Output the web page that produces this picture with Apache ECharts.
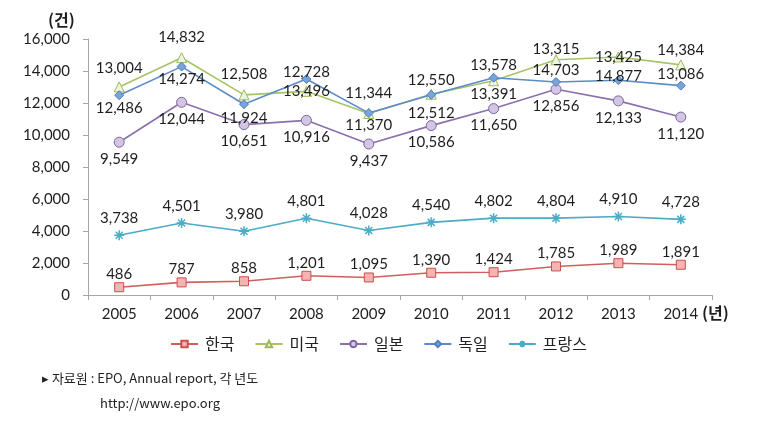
<!DOCTYPE html>
<html>
<head>
<meta charset="utf-8">
<script src="https://cdn.jsdelivr.net/npm/echarts@6/dist/echarts.min.js"></script>
<style>
html,body{margin:0;padding:0;background:#fff;}
#chart{width:757px;height:427px;}
</style>
</head>
<body>
<div id="chart"></div>
<script>
const years = ['2005','2006','2007','2008','2009','2010','2011','2012','2013','2014'];
const korea   = [486, 787, 858, 1201, 1095, 1390, 1424, 1785, 1989, 1891];
const usa     = [13004, 14832, 12508, 12728, 11344, 12550, 13391, 14703, 14877, 14384];
const japan   = [9549, 12044, 10651, 10916, 9437, 10586, 11650, 12856, 12133, 11120];
const germany = [12486, 14274, 11924, 13496, 11370, 12512, 13578, 13315, 13425, 13086];
const france  = [3738, 4501, 3980, 4801, 4028, 4540, 4802, 4804, 4910, 4728];
const yTicks = { min: 0, max: 16000, interval: 2000 };

// label vertical offsets (style only)
const usLabelDy = [-19, -21, -21, -19, -20, -14, 13, 10, 19, -15];
const deLabelDy = [13, 13, 14, 12, 12, 18, -13, -33, -23, -11];

const fmt = v => String(v).replace(/\B(?=(\d{3})+(?!\d))/g, ',');
const labelFont = 'Lato, "Open Sans", sans-serif';
const baseLabel = (dy) => ({
  show: true, position: 'inside', offset: [0, dy],
  fontFamily: labelFont, fontSize: 15, color: '#1e1e1e',
  formatter: p => fmt(p.value)
});
const withDy = (vals, dys) => vals.map((v, i) => ({ value: v, label: { offset: [0, dys[i]] } }));

const chart = echarts.init(document.getElementById('chart'));
chart.setOption({
  animation: false,
  backgroundColor: '#fff',
  grid: { left: 88, right: 45, top: 39, bottom: 132 },
  xAxis: {
    type: 'category', data: years, boundaryGap: true,
    axisLine: { lineStyle: { color: '#a6a6a6', width: 1 } },
    axisTick: { show: true, length: 5, lineStyle: { color: '#a6a6a6' } },
    axisLabel: { fontFamily: labelFont, fontSize: 15, color: '#1e1e1e', margin: 12 }
  },
  yAxis: {
    type: 'value', min: yTicks.min, max: yTicks.max, interval: yTicks.interval,
    axisLine: { show: true, lineStyle: { color: '#a6a6a6', width: 1 } },
    axisTick: { show: true, length: 5, lineStyle: { color: '#a6a6a6' } },
    splitLine: { show: false },
    axisLabel: { fontFamily: labelFont, fontSize: 15, color: '#1e1e1e', margin: 18, formatter: v => fmt(v) }
  },
  legend: {
    bottom: 70, left: 'center', itemGap: 20, itemWidth: 27, itemHeight: 8,
    textStyle: { fontFamily: '"Noto Sans CJK KR", sans-serif', fontSize: 16, color: '#222', padding: [0, 0, 0, 2] },
    data: ['한국', '미국', '일본', '독일', '프랑스']
  },
  series: [
    {
      name: '한국', type: 'line', data: korea,
      symbol: 'rect', symbolSize: 9,
      lineStyle: { color: '#cf5f5d', width: 1.6 },
      itemStyle: { color: '#f3b5b3', borderColor: '#c9504d', borderWidth: 1 },
      label: baseLabel(-13)
    },
    {
      name: '미국', type: 'line', data: withDy(usa, usLabelDy),
      symbol: 'triangle', symbolSize: 10,
      lineStyle: { color: '#a6c466', width: 1.6 },
      itemStyle: { color: '#eef4df', borderColor: '#9bbb59', borderWidth: 1 },
      label: baseLabel(-19)
    },
    {
      name: '일본', type: 'line', data: japan,
      symbol: 'circle', symbolSize: 10,
      lineStyle: { color: '#8a70ad', width: 1.6 },
      itemStyle: { color: '#d3c6e3', borderColor: '#8064a2', borderWidth: 1 },
      label: baseLabel(17)
    },
    {
      name: '독일', type: 'line', data: withDy(germany, deLabelDy),
      symbol: 'diamond', symbolSize: 9,
      lineStyle: { color: '#5b8bc8', width: 1.6 },
      itemStyle: { color: '#7aa3d8', borderColor: '#4f81bd', borderWidth: 1 },
      label: baseLabel(13)
    },
    {
      name: '프랑스', type: 'line', data: france,
      symbol: 'path://M0,5L10,5M5,0L5,10M1.5,1.5L8.5,8.5M8.5,1.5L1.5,8.5', symbolSize: 10,
      lineStyle: { color: '#4bacc6', width: 1.6 },
      itemStyle: { color: 'rgba(0,0,0,0)', borderColor: '#4bacc6', borderWidth: 1.5 },
      label: baseLabel(-17)
    }
  ],
  graphic: [
    { type: 'text', left: 48, top: 12, style: { text: '(건)', font: 'bold 16px "Noto Sans CJK KR", sans-serif', fill: '#1e1e1e' } },
    { type: 'text', left: 702, top: 305, style: { text: '(년)', font: 'bold 16px "Noto Sans CJK KR", sans-serif', fill: '#1e1e1e' } },
    { type: 'text', left: 42, top: 372, style: { text: '▸ 자료원 : EPO, Annual report, 각 년도', font: '13px "Noto Sans CJK KR", sans-serif', fill: '#222' } },
    { type: 'text', left: 100, top: 397, style: { text: 'http://www.epo.org', font: '13px "Noto Sans CJK KR", sans-serif', fill: '#222' } }
  ]
});
</script>
</body>
</html>
